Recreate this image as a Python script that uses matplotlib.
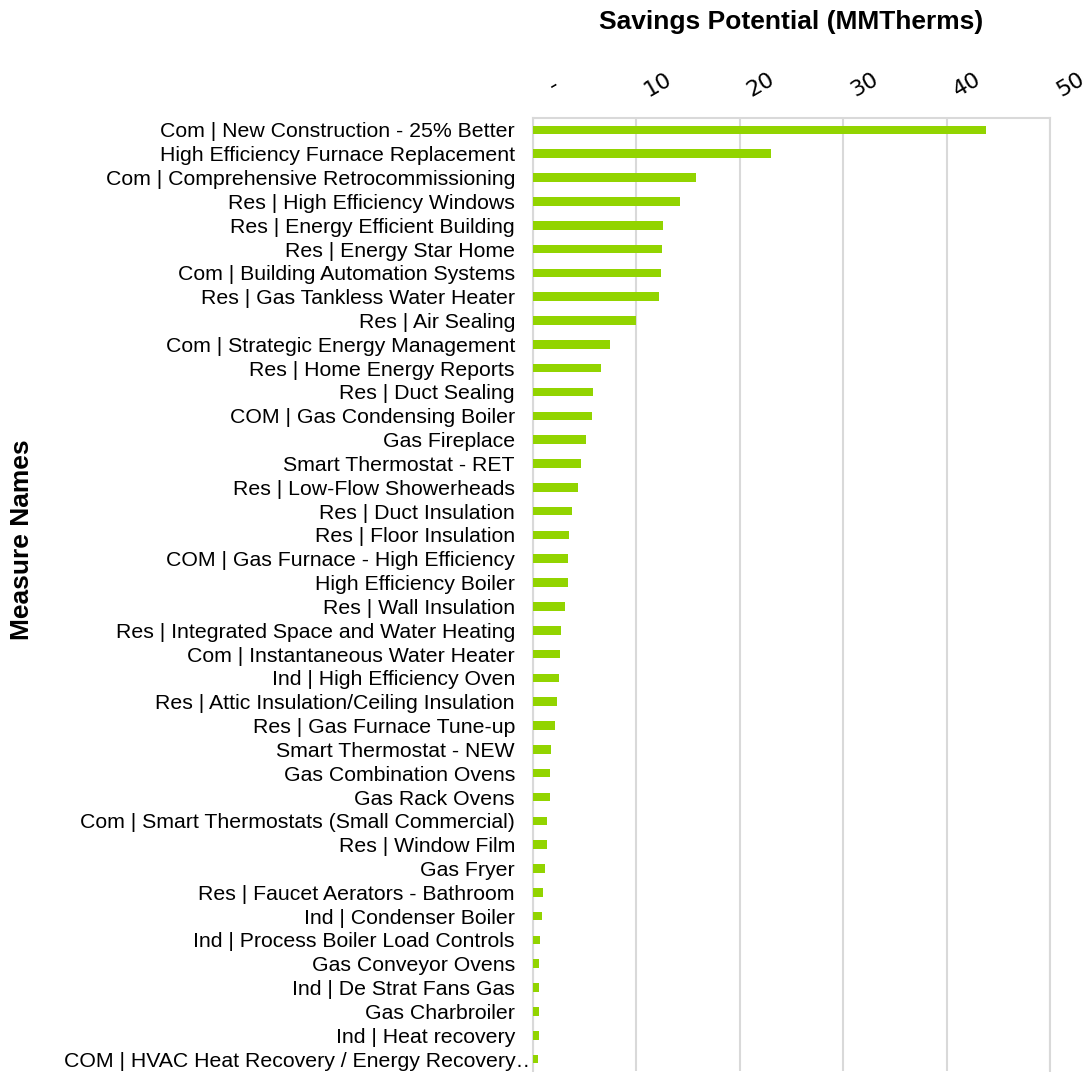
import matplotlib
matplotlib.use("Agg")
import matplotlib.pyplot as plt
import matplotlib.transforms as mtransforms

measures = [
    "Com | New Construction - 25% Better",
    "High Efficiency Furnace Replacement",
    "Com | Comprehensive Retrocommissioning",
    "Res | High Efficiency Windows",
    "Res | Energy Efficient Building",
    "Res | Energy Star Home",
    "Com | Building Automation Systems",
    "Res | Gas Tankless Water Heater",
    "Res | Air Sealing",
    "Com | Strategic Energy Management",
    "Res | Home Energy Reports",
    "Res | Duct Sealing",
    "COM | Gas Condensing Boiler",
    "Gas Fireplace",
    "Smart Thermostat - RET",
    "Res | Low-Flow Showerheads",
    "Res | Duct Insulation",
    "Res | Floor Insulation",
    "COM | Gas Furnace - High Efficiency",
    "High Efficiency Boiler",
    "Res | Wall Insulation",
    "Res | Integrated Space and Water Heating",
    "Com | Instantaneous Water Heater",
    "Ind | High Efficiency Oven",
    "Res | Attic Insulation/Ceiling Insulation",
    "Res | Gas Furnace Tune-up",
    "Smart Thermostat - NEW",
    "Gas Combination Ovens",
    "Gas Rack Ovens",
    "Com | Smart Thermostats (Small Commercial)",
    "Res | Window Film",
    "Gas Fryer",
    "Res | Faucet Aerators - Bathroom",
    "Ind | Condenser Boiler",
    "Ind | Process Boiler Load Controls",
    "Gas Conveyor Ovens",
    "Ind | De Strat Fans Gas",
    "Gas Charbroiler",
    "Ind | Heat recovery",
    "COM | HVAC Heat Recovery / Energy Recovery\u2026",
]
savings = [43.8, 23.0, 15.8, 14.2, 12.6, 12.5, 12.4, 12.2, 10.0, 7.4,
           6.55, 5.8, 5.7, 5.1, 4.6, 4.35, 3.8, 3.45, 3.4, 3.35,
           3.1, 2.7, 2.6, 2.5, 2.35, 2.15, 1.7, 1.65, 1.65, 1.4,
           1.35, 1.13, 0.94, 0.87, 0.68, 0.6, 0.6, 0.55, 0.55, 0.5]
xticks = [0, 10, 20, 30, 40, 50]
xticklabels = ["-", "10", "20", "30", "40", "50"]

plt.rcParams['font.family'] = ['Liberation Sans', 'DejaVu Sans']

fig = plt.figure(figsize=(10.89, 10.72), dpi=100)
ax = fig.add_axes([533/1089, 1 - 1071/1072, (1050-533)/1089, (1071-118)/1072])

ypos = list(range(len(measures)))
ax.barh(ypos, savings, height=0.36, color="#92d400", zorder=3)
ax.set_ylim(len(measures) - 0.5, -0.5)
ax.set_xlim(0, 50)

ax.set_yticks(ypos)
ax.set_yticklabels(measures, fontsize=15.3)
ax.tick_params(axis='y', length=0, pad=13)
ylbls = ax.get_yticklabels()
last_off = mtransforms.ScaledTranslation(22/100, 0, fig.dpi_scale_trans)
ylbls[-1].set_transform(ylbls[-1].get_transform() + last_off)

ax.xaxis.tick_top()
ax.set_xticks(xticks)
ax.set_xticklabels(xticklabels, fontsize=16, rotation=30, family=['DejaVu Sans'],
                   va='center', ha='center', rotation_mode='anchor')
ax.tick_params(axis='x', length=0, pad=24)
offset = mtransforms.ScaledTranslation(21/100, 0, fig.dpi_scale_trans)
for lbl in ax.get_xticklabels():
    lbl.set_transform(lbl.get_transform() + offset)

ax.grid(axis='x', color="#d9d9d9", linewidth=1.5, zorder=0)
for side in ['left', 'right', 'top']:
    ax.spines[side].set_color("#d9d9d9")
    ax.spines[side].set_linewidth(1.5)
ax.spines['bottom'].set_visible(False)

fig.text(791/1089, 1 - 22/1072, "Savings Potential (MMTherms)", ha='center', va='center',
         fontsize=19, fontweight='bold')
fig.text(22/1089, 1 - 540/1072, "Measure Names", ha='center', va='center',
         fontsize=19, fontweight='bold', rotation=90)

fig.savefig("out.png", dpi=100)
